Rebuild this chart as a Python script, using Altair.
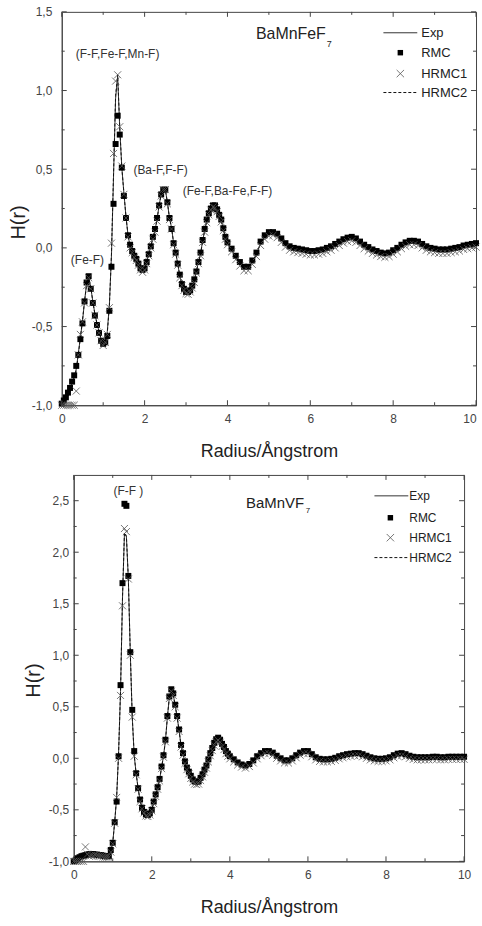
import altair as alt
import pandas as pd

# ---------------- data ----------------
R = [0.0, 0.05, 0.1, 0.15, 0.2, 0.25, 0.3, 0.35, 0.4, 0.45,
     0.5, 0.55, 0.6, 0.65, 0.7, 0.75, 0.8, 0.85, 0.9, 0.95,
     1.0, 1.05, 1.1, 1.15, 1.2, 1.25, 1.3, 1.35, 1.4, 1.45,
     1.5, 1.55, 1.6, 1.65, 1.7, 1.75, 1.8, 1.85, 1.9, 1.95,
     2.0, 2.05, 2.1, 2.15, 2.2, 2.25, 2.3, 2.35, 2.4, 2.45,
     2.5, 2.55, 2.6, 2.65, 2.7, 2.75, 2.8, 2.85, 2.9, 2.95,
     3.0, 3.05, 3.1, 3.15, 3.2, 3.25, 3.3, 3.35, 3.4, 3.45,
     3.5, 3.55, 3.6, 3.65, 3.7, 3.75, 3.8, 3.85, 3.9, 3.95,
     4.0,
     4.1, 4.2, 4.3, 4.4, 4.5, 4.6, 4.7, 4.8, 4.9, 5.0,
     5.1, 5.2, 5.3, 5.4, 5.5, 5.6, 5.7, 5.8, 5.9, 6.0,
     6.1, 6.2, 6.3, 6.4, 6.5, 6.6, 6.7, 6.8, 6.9, 7.0,
     7.1, 7.2, 7.3, 7.4, 7.5, 7.6, 7.7, 7.8, 7.9, 8.0,
     8.1, 8.2, 8.3, 8.4, 8.5, 8.6, 8.7, 8.8, 8.9, 9.0,
     9.1, 9.2, 9.3, 9.4, 9.5, 9.6, 9.7, 9.8, 9.9, 10.0]

# BaMnFeF7
FE_EXP = [-1.00, -0.97, -0.95, -0.93, -0.90, -0.86, -0.82, -0.77, -0.67, -0.57,
          -0.47, -0.34, -0.23, -0.18, -0.25, -0.34, -0.42, -0.48, -0.53, -0.58,
          -0.61, -0.60, -0.53, -0.36, -0.05, 0.45, 0.95, 1.09, 0.76, 0.51,
          0.35, 0.20, 0.08, 0.01, -0.02, -0.05, -0.07, -0.10, -0.13, -0.145,
          -0.13, -0.09, -0.04, 0.01, 0.065, 0.11, 0.18, 0.27, 0.34, 0.375,
          0.37, 0.29, 0.19, 0.13, 0.03, -0.03, -0.10, -0.18, -0.23, -0.26,
          -0.28, -0.285, -0.27, -0.245, -0.21, -0.15, -0.09, -0.04, 0.045, 0.11,
          0.17, 0.22, 0.25, 0.27, 0.265, 0.24, 0.21, 0.175, 0.12, 0.065,
          0.03,
          -0.01, -0.06, -0.10, -0.13, -0.13, -0.09, -0.04, 0.03, 0.07, 0.09,
          0.095, 0.08, 0.05, 0.02, 0.00, -0.01, -0.015, -0.02, -0.025, -0.03,
          -0.03, -0.025, -0.02, -0.01, 0.00, 0.015, 0.03, 0.045, 0.055, 0.06,
          0.05, 0.03, 0.01, -0.005, -0.02, -0.03, -0.04, -0.045, -0.04, -0.025,
          -0.01, 0.01, 0.025, 0.035, 0.035, 0.03, 0.015, 0.00, -0.01, -0.015,
          -0.02, -0.02, -0.02, -0.015, -0.01, -0.005, 0.005, 0.01, 0.015, 0.02]
FE_RMC = [-0.99, -0.97, -0.95, -0.92, -0.89, -0.85, -0.81, -0.75, -0.68, -0.58,
          -0.48, -0.34, -0.22, -0.18, -0.26, -0.35, -0.43, -0.49, -0.54, -0.59,
          -0.61, -0.60, -0.56, -0.40, -0.12, 0.28, 0.66, 0.84, 0.72, 0.51,
          0.33, 0.19, 0.08, 0.02, -0.02, -0.05, -0.07, -0.10, -0.13, -0.14,
          -0.13, -0.09, -0.04, 0.01, 0.07, 0.12, 0.19, 0.27, 0.34, 0.37,
          0.37, 0.29, 0.19, 0.12, 0.03, -0.03, -0.10, -0.17, -0.23, -0.26,
          -0.28, -0.28, -0.27, -0.24, -0.20, -0.15, -0.09, -0.03, 0.05, 0.12,
          0.18, 0.22, 0.25, 0.27, 0.27, 0.245, 0.21, 0.18, 0.125, 0.07,
          0.035,
          -0.005, -0.05, -0.09, -0.12, -0.12, -0.08, -0.03, 0.04, 0.08, 0.10,
          0.10, 0.09, 0.06, 0.03, 0.01, 0.00, -0.005, -0.01, -0.015, -0.02,
          -0.02, -0.015, -0.01, 0.00, 0.01, 0.025, 0.04, 0.055, 0.065, 0.07,
          0.06, 0.04, 0.02, 0.005, -0.01, -0.02, -0.03, -0.035, -0.03, -0.015,
          0.00, 0.02, 0.035, 0.045, 0.045, 0.04, 0.025, 0.01, 0.00, -0.005,
          -0.01, -0.01, -0.01, -0.005, 0.00, 0.005, 0.015, 0.02, 0.025, 0.03]
FE_HRMC1 = [-1.00, -1.00, -1.00, -1.00, -1.00, -1.00, -1.00, -0.91, -0.68, -0.55,
            -0.47, -0.35, -0.24, -0.19, -0.26, -0.35, -0.43, -0.49, -0.54, -0.59,
            -0.62, -0.60, -0.55, -0.38, 0.03, 0.60, 1.06, 1.10, 0.77, 0.52,
            0.34, 0.19, 0.07, 0.00, -0.03, -0.06, -0.08, -0.11, -0.14, -0.155,
            -0.14, -0.10, -0.05, 0.00, 0.055, 0.10, 0.17, 0.26, 0.33, 0.37,
            0.37, 0.28, 0.18, 0.12, 0.02, -0.04, -0.11, -0.19, -0.24, -0.27,
            -0.29, -0.295, -0.28, -0.255, -0.22, -0.16, -0.10, -0.05, 0.035, 0.10,
            0.16, 0.21, 0.24, 0.26, 0.255, 0.23, 0.20, 0.165, 0.11, 0.055,
            0.02,
            -0.025, -0.075, -0.115, -0.145, -0.145, -0.105, -0.055, 0.015, 0.055, 0.075,
            0.08, 0.065, 0.035, 0.005, -0.015, -0.025, -0.03, -0.035, -0.04, -0.045,
            -0.045, -0.04, -0.035, -0.025, -0.015, 0.00, 0.015, 0.03, 0.04, 0.045,
            0.035, 0.015, -0.005, -0.02, -0.035, -0.045, -0.055, -0.06, -0.055, -0.04,
            -0.025, -0.005, 0.01, 0.02, 0.02, 0.015, 0.00, -0.015, -0.025, -0.03,
            -0.035, -0.035, -0.035, -0.03, -0.025, -0.02, -0.01, -0.005, 0.00, 0.005]
FE_HRMC2 = [-1.00, -0.98, -0.96, -0.94, -0.91, -0.87, -0.83, -0.78, -0.68, -0.57,
            -0.46, -0.34, -0.23, -0.19, -0.25, -0.34, -0.42, -0.48, -0.53, -0.58,
            -0.61, -0.60, -0.54, -0.37, -0.04, 0.47, 0.97, 1.10, 0.77, 0.51,
            0.35, 0.20, 0.08, 0.01, -0.02, -0.05, -0.07, -0.10, -0.13, -0.14,
            -0.13, -0.09, -0.04, 0.01, 0.06, 0.11, 0.18, 0.27, 0.34, 0.37,
            0.37, 0.29, 0.19, 0.13, 0.03, -0.03, -0.10, -0.18, -0.23, -0.26,
            -0.28, -0.28, -0.27, -0.24, -0.21, -0.15, -0.09, -0.04, 0.04, 0.11,
            0.17, 0.22, 0.25, 0.27, 0.26, 0.24, 0.21, 0.17, 0.12, 0.06,
            0.03,
            -0.01, -0.06, -0.10, -0.13, -0.13, -0.09, -0.04, 0.03, 0.07, 0.09,
            0.09, 0.08, 0.05, 0.02, 0.00, -0.01, -0.02, -0.02, -0.03, -0.03,
            -0.03, -0.03, -0.02, -0.01, 0.00, 0.02, 0.03, 0.04, 0.05, 0.06,
            0.05, 0.03, 0.01, -0.01, -0.02, -0.03, -0.04, -0.04, -0.04, -0.02,
            -0.01, 0.01, 0.02, 0.03, 0.03, 0.03, 0.01, 0.00, -0.01, -0.02,
            -0.02, -0.02, -0.02, -0.02, -0.01, -0.01, 0.00, 0.01, 0.01, 0.02]

# BaMnVF7
V_EXP = [-1.00, -0.99, -0.98, -0.97, -0.96, -0.95, -0.945, -0.94, -0.94, -0.935,
         -0.935, -0.935, -0.935, -0.94, -0.945, -0.95, -0.95, -0.955, -0.95, -0.90,
         -0.82, -0.62, -0.38, 0.05, 0.65, 1.55, 2.18, 2.15, 1.74, 1.02,
         0.40, 0.03, -0.15, -0.29, -0.41, -0.48, -0.52, -0.55, -0.555, -0.54,
         -0.50, -0.43, -0.36, -0.29, -0.21, -0.09, 0.02, 0.17, 0.40, 0.59,
         0.66, 0.62, 0.51, 0.40, 0.27, 0.12, 0.04, -0.04, -0.10, -0.14,
         -0.18, -0.215, -0.235, -0.24, -0.235, -0.20, -0.165, -0.12, -0.08, -0.02,
         0.04, 0.09, 0.14, 0.175, 0.19, 0.17, 0.13, 0.10, 0.06, 0.035,
         0.01,
         -0.02, -0.05, -0.07, -0.08, -0.065, -0.03, 0.01, 0.04, 0.06, 0.06,
         0.045, 0.015, -0.01, -0.03, -0.03, -0.01, 0.02, 0.045, 0.06, 0.06,
         0.03, 0.00, -0.015, -0.02, -0.02, -0.015, -0.005, 0.01, 0.02, 0.03,
         0.035, 0.04, 0.04, 0.03, 0.015, 0.00, -0.01, -0.015, -0.015, -0.01,
         0.00, 0.02, 0.035, 0.04, 0.03, 0.015, 0.005, 0.00, 0.00, 0.00,
         0.00, 0.005, 0.005, 0.00, 0.00, 0.005, 0.005, 0.005, 0.005, 0.005]
V_RMC = [-1.00, -0.99, -0.97, -0.96, -0.95, -0.945, -0.94, -0.935, -0.93, -0.93,
         -0.93, -0.935, -0.935, -0.94, -0.94, -0.945, -0.95, -0.95, -0.95, -0.89,
         -0.82, -0.62, -0.42, 0.02, 0.71, 1.70, 2.47, 2.45, 1.77, 1.03,
         0.47, 0.07, -0.145, -0.29, -0.40, -0.48, -0.52, -0.545, -0.55, -0.535,
         -0.50, -0.42, -0.35, -0.28, -0.20, -0.08, 0.03, 0.18, 0.41, 0.60,
         0.67, 0.63, 0.52, 0.41, 0.28, 0.13, 0.05, -0.03, -0.09, -0.13,
         -0.17, -0.205, -0.225, -0.23, -0.225, -0.19, -0.155, -0.11, -0.07, -0.01,
         0.05, 0.10, 0.15, 0.185, 0.20, 0.18, 0.14, 0.11, 0.07, 0.045,
         0.02,
         -0.01, -0.04, -0.06, -0.07, -0.055, -0.02, 0.02, 0.05, 0.07, 0.07,
         0.055, 0.025, 0.00, -0.02, -0.02, 0.00, 0.03, 0.055, 0.07, 0.07,
         0.04, 0.01, -0.005, -0.01, -0.01, -0.005, 0.005, 0.02, 0.03, 0.04,
         0.045, 0.05, 0.05, 0.04, 0.025, 0.01, 0.00, -0.005, -0.005, 0.00,
         0.01, 0.03, 0.045, 0.05, 0.04, 0.025, 0.015, 0.01, 0.01, 0.01,
         0.01, 0.015, 0.015, 0.01, 0.01, 0.015, 0.015, 0.015, 0.015, 0.015]
V_HRMC1 = [-1.00, -1.00, -1.00, -1.00, -1.00, -1.00, -0.86, -0.93, -0.95, -0.945,
           -0.945, -0.94, -0.945, -0.95, -0.95, -0.955, -0.96, -0.96, -0.96, -0.91,
           -0.83, -0.63, -0.38, 0.00, 0.61, 1.48, 2.23, 2.20, 1.74, 1.00,
           0.40, 0.02, -0.16, -0.30, -0.42, -0.49, -0.53, -0.56, -0.565, -0.55,
           -0.51, -0.44, -0.37, -0.30, -0.22, -0.10, 0.01, 0.16, 0.39, 0.58,
           0.65, 0.61, 0.50, 0.39, 0.26, 0.11, 0.03, -0.05, -0.11, -0.15,
           -0.195, -0.23, -0.25, -0.255, -0.25, -0.215, -0.18, -0.135, -0.095, -0.035,
           0.025, 0.075, 0.125, 0.16, 0.175, 0.155, 0.115, 0.085, 0.045, 0.02,
           -0.005,
           -0.035, -0.065, -0.085, -0.095, -0.08, -0.045, -0.005, 0.025, 0.045, 0.045,
           0.03, 0.00, -0.025, -0.045, -0.045, -0.025, 0.005, 0.03, 0.045, 0.045,
           0.015, -0.015, -0.03, -0.035, -0.035, -0.03, -0.02, -0.005, 0.005, 0.015,
           0.02, 0.025, 0.025, 0.015, 0.00, -0.015, -0.025, -0.03, -0.03, -0.025,
           -0.015, 0.005, 0.02, 0.025, 0.015, 0.00, -0.01, -0.015, -0.015, -0.015,
           -0.015, -0.01, -0.01, -0.015, -0.015, -0.01, -0.01, -0.01, -0.01, -0.01]
V_HRMC2 = [-1.00, -0.99, -0.98, -0.97, -0.96, -0.95, -0.94, -0.94, -0.94, -0.93,
           -0.93, -0.93, -0.94, -0.94, -0.95, -0.95, -0.95, -0.95, -0.95, -0.90,
           -0.82, -0.62, -0.38, 0.05, 0.66, 1.56, 2.19, 2.16, 1.74, 1.02,
           0.40, 0.03, -0.15, -0.29, -0.41, -0.48, -0.52, -0.55, -0.55, -0.54,
           -0.50, -0.43, -0.36, -0.29, -0.21, -0.09, 0.02, 0.17, 0.40, 0.59,
           0.66, 0.62, 0.51, 0.40, 0.27, 0.12, 0.04, -0.04, -0.10, -0.14,
           -0.18, -0.21, -0.23, -0.24, -0.23, -0.20, -0.16, -0.12, -0.08, -0.02,
           0.04, 0.09, 0.14, 0.17, 0.19, 0.17, 0.13, 0.10, 0.06, 0.03,
           0.01,
           -0.02, -0.05, -0.07, -0.08, -0.06, -0.03, 0.01, 0.04, 0.06, 0.06,
           0.04, 0.01, -0.01, -0.03, -0.03, -0.01, 0.02, 0.04, 0.06, 0.06,
           0.03, 0.00, -0.01, -0.02, -0.02, -0.01, 0.00, 0.01, 0.02, 0.03,
           0.03, 0.04, 0.04, 0.03, 0.01, 0.00, -0.01, -0.01, -0.01, -0.01,
           0.00, 0.02, 0.03, 0.04, 0.03, 0.01, 0.00, 0.00, 0.00, 0.00,
           0.00, 0.00, 0.00, 0.00, 0.00, 0.00, 0.00, 0.01, 0.01, 0.01]

SERIES = ["Exp", "RMC", "HRMC1", "HRMC2"]

FE_ANN_TEXT = ["(F-F,Fe-F,Mn-F)", "(Ba-F,F-F)", "(Fe-F,Ba-Fe,F-F)", "(Fe-F)"]
FE_ANN_R = [0.34, 1.73, 2.92, 0.22]
FE_ANN_H = [1.235, 0.495, 0.36, -0.075]
V_ANN_TEXT = ["(F-F )"]
V_ANN_R = [1.02]
V_ANN_H = [2.59]

FE_NAME = ["BaMnFeF", "7"]
V_NAME = ["BaMnVF", "7"]

X_TICKS = [0, 2, 4, 6, 8, 10]
X_MINOR = [1, 3, 5, 7, 9]
FE_Y_TICKS = [-1.0, -0.5, 0.0, 0.5, 1.0, 1.5]
FE_Y_MINOR = [-0.75, -0.25, 0.25, 0.75, 1.25]
V_Y_TICKS = [-1.0, -0.5, 0.0, 0.5, 1.0, 1.5, 2.0, 2.5]
V_Y_MINOR = [-0.75, -0.25, 0.25, 0.75, 1.25, 1.75, 2.25]

for lst in (FE_EXP, FE_RMC, FE_HRMC1, FE_HRMC2, V_EXP, V_RMC, V_HRMC1, V_HRMC2):
    assert len(lst) == len(R), len(lst)

FONT = "Liberation Sans"
INK = "#222222"
LABEL_EXPR = "(datum.value < 0 ? '-' : '') + replace(format(abs(datum.value), '.1f'), '.', ',')"
XPATH = "M-1,-1L1,1M-1,1L1,-1"


def long_df(vals):
    rows = []
    for name, ys in zip(SERIES, vals):
        for r, h in zip(R, ys):
            rows.append({"r": r, "H": h, "series": name})
    return pd.DataFrame(rows)


def panel(vals, W, Hh, ydom, ymaj, ymin, ytitle_x, ytitle_y, ylabpad,
          ann_text, ann_r, ann_h, name, name_pos, leg, leg_font, flush_last):
    df = long_df(vals)
    xs = alt.Scale(domain=[0, 10], nice=False, zero=False)
    ys = alt.Scale(domain=ydom, nice=False, zero=False)
    xkw = {}
    if flush_last:
        xkw["labelAlign"] = {"condition": {"test": "datum.value >= 10", "value": "right"},
                             "value": "center"}
    xax = alt.Axis(values=X_TICKS, title="Radius/Ångstrom", ticks=False, tickSize=0,
                   labelPadding=8, titlePadding=18, grid=False, format="d",
                   labelFontSize=12, titleFontSize=18, labelFont=FONT, titleFont=FONT,
                   labelColor="#444444", titleColor=INK, titleFontWeight="normal",
                   domainColor="#444444", labelFlush=False, **xkw)
    yax = alt.Axis(values=ymaj, title="H(r)", ticks=False, tickSize=0,
                   labelPadding=ylabpad, labelExpr=LABEL_EXPR, grid=False,
                   labelFontSize=12, titleFontSize=20, labelFont=FONT, titleFont=FONT,
                   labelColor="#444444", titleColor=INK, titleFontWeight="normal",
                   titleAngle=270, titleX=ytitle_x, titleY=ytitle_y,
                   titleBaseline="alphabetic", domainColor="#444444")
    X = alt.X("r:Q", scale=xs, axis=xax)
    Y = alt.Y("H:Q", scale=ys, axis=yax)
    base = alt.Chart(df)
    layers = []
    layers.append(base.transform_filter("datum.series == 'Exp'")
                  .mark_line(color="#333333", strokeWidth=1).encode(x=X, y=Y))
    layers.append(base.transform_filter("datum.series == 'HRMC2'")
                  .mark_line(color="#111111", strokeWidth=1, strokeDash=[3, 2]).encode(x=X, y=Y))
    layers.append(base.transform_filter("datum.series == 'RMC'")
                  .mark_point(shape="square", filled=True, size=36, color="#000000",
                              opacity=1).encode(x=X, y=Y))
    layers.append(base.transform_filter("datum.series == 'HRMC1'")
                  .mark_point(shape=XPATH, filled=False, size=50, stroke="#555555",
                              strokeWidth=0.8, opacity=1).encode(x=X, y=Y))
    # inward ticks
    for vals_t, ln in ((ymaj, 5), (ymin, 3)):
        tdf = pd.DataFrame({"H": vals_t})
        layers.append(alt.Chart(tdf).mark_rule(color="#444444").encode(
            y=Y, x=alt.value(0), x2=alt.value(ln)))
        layers.append(alt.Chart(tdf).mark_rule(color="#444444").encode(
            y=Y, x=alt.value(W), x2=alt.value(W - ln)))
    for vals_t, ln in ((X_TICKS, 5), (X_MINOR, 3)):
        tdf = pd.DataFrame({"r": vals_t})
        layers.append(alt.Chart(tdf).mark_rule(color="#444444").encode(
            x=X, y=alt.value(Hh), y2=alt.value(Hh - ln)))
        layers.append(alt.Chart(tdf).mark_rule(color="#444444").encode(
            x=X, y=alt.value(0), y2=alt.value(ln)))
    # peak annotations
    adf = pd.DataFrame({"r": ann_r, "H": ann_h, "label": ann_text})
    layers.append(alt.Chart(adf).mark_text(align="left", baseline="middle", fontSize=12,
                                           font=FONT, color="#333333").encode(
        x=X, y=Y, text="label:N"))
    # compound name with subscript
    (nx, ny, nfs, sx, sy, sfs) = name_pos
    layers.append(alt.Chart(pd.DataFrame({"t": [name[0]]})).mark_text(
        align="left", baseline="alphabetic", fontSize=nfs, font=FONT, color=INK).encode(
        x=alt.value(nx), y=alt.value(ny), text="t:N"))
    layers.append(alt.Chart(pd.DataFrame({"t": [name[1]]})).mark_text(
        align="left", baseline="alphabetic", fontSize=sfs, font=FONT, color=INK).encode(
        x=alt.value(sx), y=alt.value(sy), text="t:N"))
    # legend
    (lx0, lx1, lxs, lxl, lys) = leg
    ldf = pd.DataFrame({"series": SERIES})
    layers.append(alt.Chart(ldf).transform_filter("datum.series == 'Exp'").mark_rule(
        color="#333333", strokeWidth=1).encode(
        x=alt.value(lx0), x2=alt.value(lx1), y=alt.value(lys[0])))
    layers.append(alt.Chart(ldf).transform_filter("datum.series == 'RMC'").mark_point(
        shape="square", filled=True, size=30, color="#000000", opacity=1).encode(
        x=alt.value(lxs), y=alt.value(lys[1])))
    layers.append(alt.Chart(ldf).transform_filter("datum.series == 'HRMC1'").mark_point(
        shape=XPATH, filled=False, size=55, stroke="#555555", strokeWidth=0.8,
        opacity=1).encode(x=alt.value(lxs), y=alt.value(lys[2])))
    layers.append(alt.Chart(ldf).transform_filter("datum.series == 'HRMC2'").mark_rule(
        color="#111111", strokeWidth=1, strokeDash=[3, 2]).encode(
        x=alt.value(lx0), x2=alt.value(lx1), y=alt.value(lys[3])))
    for i, s in enumerate(SERIES):
        layers.append(alt.Chart(ldf).transform_filter(f"datum.series == '{s}'").mark_text(
            align="left", baseline="middle", fontSize=leg_font, font=FONT, color=INK).encode(
            x=alt.value(lxl), y=alt.value(lys[i]), text="series:N"))
    return alt.layer(*layers).properties(width=W, height=Hh)


top = panel([FE_EXP, FE_RMC, FE_HRMC1, FE_HRMC2], 416, 395, [-1.0, 1.5],
            FE_Y_TICKS, FE_Y_MINOR, -37, 211, 10,
            FE_ANN_TEXT, FE_ANN_R, FE_ANN_H, FE_NAME,
            (195, 27, 16, 266, 35, 9),
            (323, 357, 340, 361, [21, 41, 62, 81]), 13, True)

bottom = panel([V_EXP, V_RMC, V_HRMC1, V_HRMC2], 392, 388, [-1.0, 2.75],
               V_Y_TICKS, V_Y_MINOR, -34, 206, 5,
               V_ANN_TEXT, V_ANN_R, V_ANN_H, V_NAME,
               (173, 33, 15, 233, 38, 8),
               (302, 336, 318, 337, [21, 43, 63, 83]), 12, False)

chart = alt.vconcat(top, bottom, spacing=70, center=True, bounds="flush").properties(
    padding={"left": 8, "top": 3, "right": 0, "bottom": 0},
    background="white",
).configure_view(stroke="#444444", strokeWidth=1).configure_axis(grid=False)

chart.save("out.html", embed_options={"renderer": "svg", "actions": False})
